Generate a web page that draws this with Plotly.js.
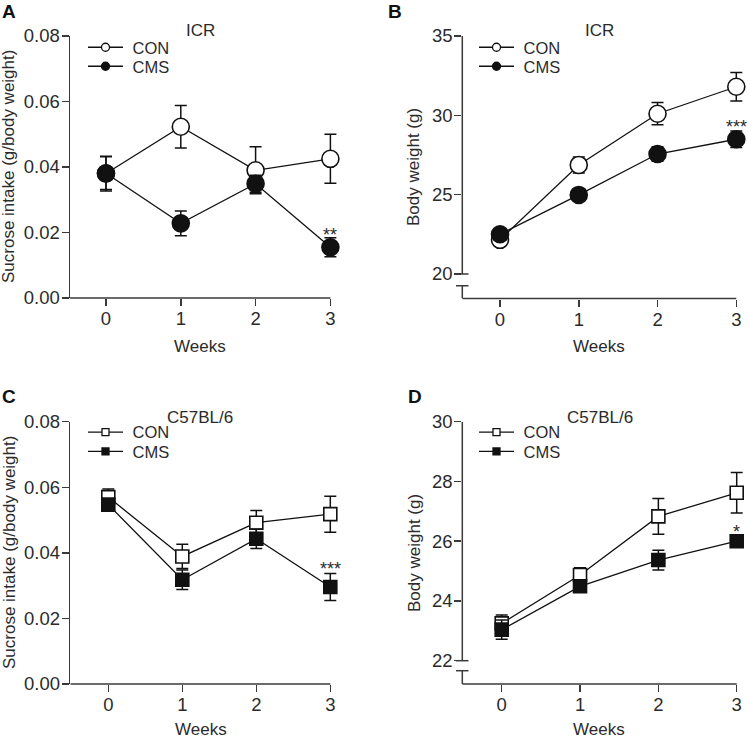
<!DOCTYPE html>
<html>
<head>
<meta charset="utf-8">
<script src="https://cdn.plot.ly/plotly-3.0.1.min.js"></script>
<style>html,body{margin:0;padding:0;background:#fff;}#chart{width:748px;height:738px;}</style>
</head>
<body>
<div id="chart"></div>
<script>
// ---------- data ----------
const weeks = [0, 1, 2, 3];
const weekLabels = ['0', '1', '2', '3'];
const groups = ['CON', 'CMS'];

// A: ICR sucrose intake (g/body weight)
const icrSucroseCON = [0.0380, 0.0523, 0.0390, 0.0425];
const icrSucroseCONErr = [0.0053, 0.0065, 0.0072, 0.0075];
const icrSucroseCMS = [0.0381, 0.0228, 0.0349, 0.0155];
const icrSucroseCMSErr = [0.0050, 0.0038, 0.0026, 0.0029];

// B: ICR body weight (g)
const icrWeightCON = [22.15, 26.87, 30.10, 31.80];
const icrWeightCONErr = [0.20, 0.50, 0.70, 0.90];
const icrWeightCMS = [22.50, 24.98, 27.56, 28.49];
const icrWeightCMSErr = [0.20, 0.25, 0.45, 0.52];

// C: C57BL/6 sucrose intake (g/body weight)
const c57SucroseCON = [0.0570, 0.0389, 0.0492, 0.0518];
const c57SucroseCONErr = [0.0025, 0.0037, 0.0037, 0.0055];
const c57SucroseCMS = [0.0547, 0.0318, 0.0443, 0.0296];
const c57SucroseCMSErr = [0.0018, 0.0030, 0.0030, 0.0041];

// D: C57BL/6 body weight (g)
const c57WeightCON = [23.25, 24.87, 26.83, 27.62];
const c57WeightCONErr = [0.28, 0.24, 0.60, 0.68];
const c57WeightCMS = [23.04, 24.49, 25.37, 26.00];
const c57WeightCMSErr = [0.32, 0.10, 0.33, 0.10];

// significance labels at week 3
const sigLabels = ['**', '***', '***', '*'];

const sucroseTicks = [0, 0.02, 0.04, 0.06, 0.08];
const sucroseTickText = ['0.00', '0.02', '0.04', '0.06', '0.08'];
const icrWeightTicks = [20, 25, 30, 35];
const c57WeightTicks = [22, 24, 26, 28, 30];

// ---------- helpers ----------
const W = 748, H = 738;
const px = v => v / W;
const py = v => 1 - v / H;
const FONT = 'Liberation Sans, Arial, Helvetica, sans-serif';
const AX = '#3a3a3a';
const TXT = '#2b2b2b';
const NB = '\u00a0';
const TICKSIZE = 18.5;

function series(xa, ya, y, err, filled, symbol, size) {
  return {
    x: weeks, y: y, xaxis: xa, yaxis: ya, type: 'scatter', mode: 'lines+markers',
    showlegend: false, cliponaxis: false, hoverinfo: 'skip',
    line: {color: '#111', width: 1.3},
    marker: {symbol: symbol, size: size, color: filled ? '#111' : '#fff', line: {color: '#111', width: 1.6}},
    error_y: {type: 'data', array: err, visible: true, color: '#111', thickness: 1.5, width: 6}
  };
}
function legendItem(xa, ya, name, filled, symbol, size, legendId) {
  return {
    x: [null], y: [null], xaxis: xa, yaxis: ya, type: 'scatter', mode: 'lines+markers',
    name: NB + name, legend: legendId, showlegend: true, hoverinfo: 'skip',
    line: {color: '#111', width: 1.3},
    marker: {symbol: symbol, size: size, color: filled ? '#111' : '#fff', line: {color: '#111', width: 1.3}}
  };
}

const traces = [
  series('x', 'y', icrSucroseCON, icrSucroseCONErr, false, 'circle', 17),
  series('x', 'y', icrSucroseCMS, icrSucroseCMSErr, true, 'circle', 17),
  series('x2', 'y2', icrWeightCON, icrWeightCONErr, false, 'circle', 17),
  series('x2', 'y2', icrWeightCMS, icrWeightCMSErr, true, 'circle', 17),
  series('x3', 'y3', c57SucroseCON, c57SucroseCONErr, false, 'square', 13),
  series('x3', 'y3', c57SucroseCMS, c57SucroseCMSErr, true, 'square', 13),
  series('x4', 'y4', c57WeightCON, c57WeightCONErr, false, 'square', 13),
  series('x4', 'y4', c57WeightCMS, c57WeightCMSErr, true, 'square', 13),
  legendItem('x', 'y', groups[0], false, 'circle', 8, 'legend'),
  legendItem('x', 'y', groups[1], true, 'circle', 8, 'legend2'),
  legendItem('x2', 'y2', groups[0], false, 'circle', 8, 'legend3'),
  legendItem('x2', 'y2', groups[1], true, 'circle', 8, 'legend4'),
  legendItem('x3', 'y3', groups[0], false, 'square', 7, 'legend5'),
  legendItem('x3', 'y3', groups[1], true, 'square', 7, 'legend6'),
  legendItem('x4', 'y4', groups[0], false, 'square', 7, 'legend7'),
  legendItem('x4', 'y4', groups[1], true, 'square', 7, 'legend8')
];

const EXT = 0.12; // extra room right of week 3 so end error caps are not clipped

function xAxis(domain, range, anchor) {
  return {
    domain: domain, range: range, anchor: anchor, tickvals: weeks, ticktext: weekLabels,
    showline: false, ticks: 'outside', ticklen: 7, tickwidth: 1.5, ticklabelstandoff: -3,
    tickcolor: AX, showgrid: false, zeroline: false, tickfont: {size: TICKSIZE, color: TXT}, fixedrange: true
  };
}
function yAxis(domain, range, anchor, tickvals, ticktext, showline) {
  return {
    domain: domain, range: range, anchor: anchor, tickvals: tickvals, ticktext: ticktext,
    showline: showline, linecolor: AX, linewidth: 1.5, ticks: 'outside', ticklen: 7, tickwidth: 1.5,
    ticklabelstandoff: -2,
    tickcolor: AX, showgrid: false, zeroline: false, tickfont: {size: TICKSIZE, color: TXT}, fixedrange: true
  };
}

function legendPos(xp, yp) {
  return {x: px(xp), y: py(yp), xanchor: 'left', yanchor: 'middle', xref: 'paper', yref: 'paper',
    bgcolor: 'rgba(0,0,0,0)', borderwidth: 0, font: {size: 16.5, color: TXT, family: FONT}, itemwidth: 35};
}

function ann(text, xp, yp, opts) {
  return Object.assign({text: text, x: px(xp), y: py(yp), xref: 'paper', yref: 'paper',
    showarrow: false, xanchor: 'center', yanchor: 'middle', font: {size: 17, color: TXT, family: FONT}}, opts || {});
}
function sig(text, xa, ya, y) {
  return {text: text, x: 3, y: y, xref: xa, yref: ya, showarrow: false, yanchor: 'middle', yshift: -5,
    font: {size: 18, color: TXT, family: FONT}};
}

const annotations = [
  ann('<b>A</b>', 0, 11, {xanchor: 'left', font: {size: 19, color: '#111', family: FONT}}),
  ann('<b>B</b>', 386, 11, {xanchor: 'left', font: {size: 19, color: '#111', family: FONT}}),
  ann('<b>C</b>', 0, 396, {xanchor: 'left', font: {size: 19, color: '#111', family: FONT}}),
  ann('<b>D</b>', 406, 396, {xanchor: 'left', font: {size: 19, color: '#111', family: FONT}}),
  ann('ICR', 200, 30), ann('ICR', 599, 30),
  ann('C57BL/6', 200, 417), ann('C57BL/6', 600, 417),
  ann('Weeks', 200, 347), ann('Weeks', 599, 347), ann('Weeks', 201, 729), ann('Weeks', 599, 729),
  ann('Sucrose intake (g/body weight)', 9, 167, {textangle: -90}),
  ann('Sucrose intake (g/body weight)', 9, 553, {textangle: -90}),
  ann('Body weight (g)', 414, 167, {textangle: -90}),
  ann('Body weight (g)', 414, 553, {textangle: -90}),
  sig(sigLabels[0], 'x', 'y', 0.0208),
  sig(sigLabels[1], 'x2', 'y2', 29.55),
  sig(sigLabels[2], 'x3', 'y3', 0.0366),
  sig(sigLabels[3], 'x4', 'y4', 26.49)
];

// axis lines (x axes end at week 3) and axis breaks (B and D)
const lineStyle = {color: AX, width: 1.5};
const xMin = [-0.481, -0.4786, -0.5135, -0.503];
const shapes = [
  {type: 'line', xref: 'x', yref: 'y domain', x0: xMin[0], x1: 3, y0: 0, y1: 0, line: lineStyle},
  {type: 'line', xref: 'x2', yref: 'y2 domain', x0: xMin[1], x1: 3, y0: 0, y1: 0, line: lineStyle},
  {type: 'line', xref: 'x3', yref: 'y3 domain', x0: xMin[2], x1: 3, y0: 0, y1: 0, line: lineStyle},
  {type: 'line', xref: 'x4', yref: 'y4 domain', x0: xMin[3], x1: 3, y0: 0, y1: 0, line: lineStyle},
  {type: 'line', xref: 'x2 domain', yref: 'y2', x0: 0, x1: 0, y0: 20, y1: 35, line: lineStyle},
  {type: 'line', xref: 'x2 domain', yref: 'y2', x0: 0, x1: 0, y0: 18.45, y1: 19.26, line: lineStyle},
  {type: 'line', xref: 'paper', yref: 'y2', x0: px(456), x1: px(468.5), y0: 20, y1: 20, line: lineStyle},
  {type: 'line', xref: 'paper', yref: 'y2', x0: px(456), x1: px(468.5), y0: 19.26, y1: 19.26, line: lineStyle},
  {type: 'line', xref: 'x4 domain', yref: 'y4', x0: 0, x1: 0, y0: 22, y1: 30, line: lineStyle},
  {type: 'line', xref: 'x4 domain', yref: 'y4', x0: 0, x1: 0, y0: 21.22, y1: 21.665, line: lineStyle},
  {type: 'line', xref: 'paper', yref: 'y4', x0: px(456), x1: px(468.5), y0: 22, y1: 22, line: lineStyle},
  {type: 'line', xref: 'paper', yref: 'y4', x0: px(456), x1: px(468.5), y0: 21.665, y1: 21.665, line: lineStyle}
];

const layout = {
  width: W, height: H, margin: {l: 0, r: 0, t: 0, b: 0},
  paper_bgcolor: '#fff', plot_bgcolor: '#fff',
  font: {family: FONT, size: 17, color: TXT},
  xaxis: xAxis([px(70), px(330.4 + EXT * 74.8)], [xMin[0], 3 + EXT], 'y'),
  yaxis: yAxis([py(298), py(36)], [0, 0.08], 'x', sucroseTicks, sucroseTickText, true),
  xaxis2: xAxis([px(462.3), px(736.3 + EXT * 78.77)], [xMin[1], 3 + EXT], 'y2'),
  yaxis2: yAxis([py(298.5), py(36)], [18.45, 35], 'x2', icrWeightTicks, icrWeightTicks.map(String), false),
  xaxis3: xAxis([px(70.3), px(330.3 + EXT * 74)], [xMin[2], 3 + EXT], 'y3'),
  yaxis3: yAxis([py(684), py(421.7)], [0, 0.08], 'x3', sucroseTicks, sucroseTickText, true),
  xaxis4: xAxis([px(462.3), px(736.7 + EXT * 78.33)], [xMin[3], 3 + EXT], 'y4'),
  yaxis4: yAxis([py(684), py(421.7)], [21.22, 30], 'x4', c57WeightTicks, c57WeightTicks.map(String), false),
  legend: legendPos(83, 47.5),
  legend2: legendPos(83, 66.5),
  legend3: legendPos(474, 47.5),
  legend4: legendPos(474, 66.5),
  legend5: legendPos(83, 432.3),
  legend6: legendPos(83, 451.7),
  legend7: legendPos(474, 432.3),
  legend8: legendPos(474, 451.7),
  annotations: annotations,
  shapes: shapes,
  showlegend: true
};

Plotly.newPlot('chart', traces, layout, {staticPlot: true, displayModeBar: false});
</script>
</body>
</html>
